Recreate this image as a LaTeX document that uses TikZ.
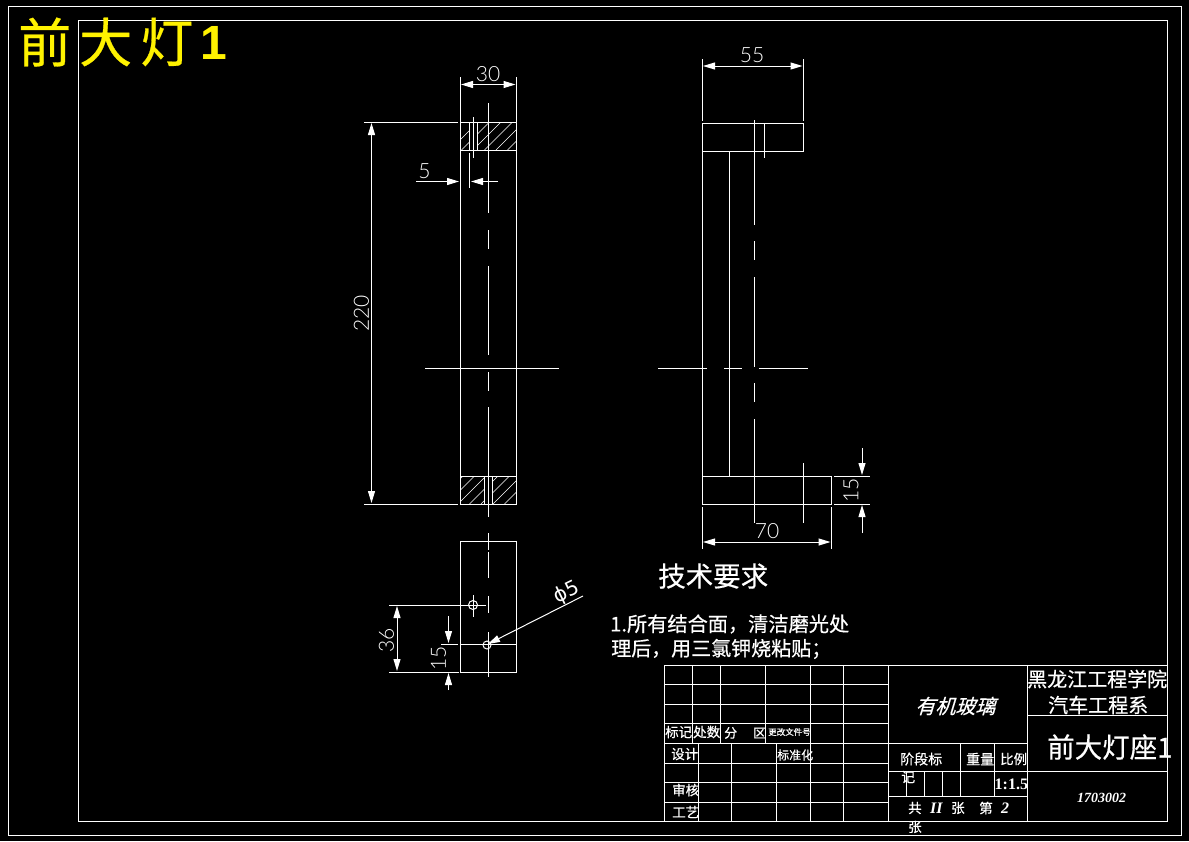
\documentclass[tikz,border=0pt]{standalone}
\usepackage{xcolor}
\usepackage{fontspec}
\usetikzlibrary{arrows.meta}
\setmainfont{Liberation Serif}
\newfontfamily\cjk[FakeBold=0.5]{Noto Sans CJK SC}
\newfontfamily\cjkit[FakeSlant=0.3,FakeBold=0.5]{Noto Sans CJK SC}
\newfontfamily\dimfont[UprightFont=* Light]{Lato}
\newfontfamily\phifont{DejaVu Sans}
\newcommand{\fsz}[1]{\fontsize{#1}{#1}\selectfont}
\tikzset{
  cad/.style={white, line width=1pt},
  dimtip/.style={>={Stealth[length=12pt,width=7pt,inset=0pt]}},
  dimtext/.style={white, inner sep=0pt, font=\dimfont\fsz{21}},
  label/.style={white, inner sep=0pt, anchor=west, font=\cjk\fsz{#1}},
  hatchline/.style={white, line width=0.6pt},
}
\begin{document}
\begin{tikzpicture}[x=1pt, y=-1pt]
\useasboundingbox (0, 0) rectangle (1189, 841);
\fill[black] (0, 0) rectangle (1189, 841);
\draw[cad] (8, 6) rectangle (1181.5, 835);
\draw[cad] (78, 20) rectangle (1167.5, 821);
\node[inner sep=0pt, anchor=west, yellow, font=\cjk\fsz{53}] (titlea) at (18, 42) {前};
\node[inner sep=0pt, anchor=west, yellow, font=\cjk\fsz{53}] (titleb) at (79, 42) {大};
\node[inner sep=0pt, anchor=west, yellow, font=\cjk\fsz{53}] (titlec) at (140, 42) {灯};
\node[inner sep=0pt, anchor=west, yellow, font=\fontspec{Liberation Sans}\bfseries\fsz{48}] (titled) at (200, 43) {1};

% left view
\draw[cad] (460, 122) rectangle (516.5, 150);
\draw[cad] (460, 476) rectangle (516.5, 504);
\draw[cad] (460, 150) -- (460, 476);
\draw[cad] (516.5, 150) -- (516.5, 476);
\draw[cad] (469, 122) -- (469, 150);
\draw[cad] (477, 122) -- (477, 150);
\draw[cad] (484, 476) -- (484, 504);
\draw[cad] (492, 476) -- (492, 504);
\draw[cad] (473.5, 117) -- (473.5, 158);
\begin{scope}
\clip (460, 122) rectangle (469, 150);
\foreach \hx in {0, 11.5, ..., 40} {\draw[hatchline] (450 + \hx, 150) -- (478 + \hx, 122);}
\end{scope}
\begin{scope}
\clip (477, 122) rectangle (516.5, 150);
\foreach \hx in {0, 11.5, ..., 80} {\draw[hatchline] (450 + \hx, 150) -- (478 + \hx, 122);}
\end{scope}
\begin{scope}
\clip (460, 476) rectangle (484, 504);
\foreach \hx in {0, 11.5, ..., 60} {\draw[hatchline] (435 + \hx, 504) -- (463 + \hx, 476);}
\end{scope}
\begin{scope}
\clip (492, 476) rectangle (516.5, 504);
\foreach \hx in {0, 11.5, ..., 60} {\draw[hatchline] (470 + \hx, 504) -- (498 + \hx, 476);}
\end{scope}
\draw[cad] (488, 103) -- (488, 213);
\draw[cad] (488, 230) -- (488, 248.5);
\draw[cad] (488, 266) -- (488, 355);
\draw[cad] (488, 372) -- (488, 391);
\draw[cad] (488, 407) -- (488, 517);
\draw[cad] (488, 533) -- (488, 550);
\draw[cad] (488, 552) -- (488, 578);
\draw[cad] (488, 596) -- (488, 613);
\draw[cad] (488, 632) -- (488, 677);
\draw[cad] (425, 368.5) -- (559, 368.5);

% bottom view
\draw[cad] (460, 541) rectangle (516.5, 672);
\draw[cad] (460, 644) -- (516.5, 644);
\draw[cad] (473, 605) circle (4.5);
\draw[cad] (473, 595) -- (473, 617);
\draw[cad] (389, 605) -- (486, 605);
\draw[cad] (487, 645) circle (4);

% right view
\draw[cad] (702, 123) rectangle (803.5, 151);
\draw[cad] (702, 476) rectangle (831.5, 504);
\draw[cad] (702, 151) -- (702, 476);
\draw[cad] (729.5, 151) -- (729.5, 476);
\draw[cad] (754.5, 120) -- (754.5, 225);
\draw[cad] (754.5, 241) -- (754.5, 260);
\draw[cad] (754.5, 277) -- (754.5, 367);
\draw[cad] (754.5, 383) -- (754.5, 402);
\draw[cad] (754.5, 419) -- (754.5, 523);
\draw[cad] (764, 123) -- (764, 158);
\draw[cad] (803.5, 463) -- (803.5, 523);
\draw[cad] (658, 368.5) -- (707, 368.5);
\draw[cad] (724, 368.5) -- (742, 368.5);
\draw[cad] (759, 368.5) -- (808, 368.5);

% dimensions
\draw[cad] (460, 77) -- (460, 122);
\draw[cad] (516.5, 77) -- (516.5, 122);
\draw[cad, dimtip, <->] (461, 84.5) -- (515.5, 84.5);
\node[dimtext] (dimthirty) at (488, 74.5) {30};
\draw[cad] (364, 122) -- (458, 122);
\draw[cad] (364, 504) -- (458, 504);
\draw[cad, dimtip, <->] (371.5, 123) -- (371.5, 503);
\node[dimtext, rotate=90] (dimlength) at (361.5, 313.5) {220};
\draw[cad] (469, 153) -- (469, 188);
\draw[cad, dimtip, ->] (416, 181.5) -- (459, 181.5);
\draw[cad, dimtip, ->] (498, 181.5) -- (471, 181.5);
\node[dimtext] (dimfive) at (424.5, 171) {5};
\draw[cad] (389, 672) -- (459, 672);
\draw[cad, dimtip, <->] (397, 606) -- (397, 671);
\node[dimtext, rotate=90] (dimhole) at (386.5, 640) {36};
\draw[cad] (441, 644) -- (458, 644);
\draw[cad, dimtip, ->] (448.5, 616) -- (448.5, 643);
\draw[cad, dimtip, ->] (448.5, 690) -- (448.5, 673);
\node[dimtext, rotate=90] (dimedge) at (438.5, 658) {15};
\coordinate (leader) at (583, 596);
\coordinate (holetip) at (488, 644);
\draw[cad, dimtip, ->] (leader) -- (holetip);
\node[dimtext, rotate=26, font=\phifont\fsz{20}] (dimdia) at (566.5, 593) {ϕ5};
\draw[cad] (702, 59) -- (702, 121);
\draw[cad] (803.5, 59) -- (803.5, 121);
\draw[cad, dimtip, <->] (703, 66) -- (802.5, 66);
\node[dimtext] (dimwidth) at (752, 55) {55};
\draw[cad] (702, 507) -- (702, 549);
\draw[cad] (831.5, 507) -- (831.5, 549);
\draw[cad, dimtip, <->] (703, 542) -- (830.5, 542);
\node[dimtext] (dimbase) at (767, 531.5) {70};
\draw[cad] (834, 476) -- (870, 476);
\draw[cad] (834, 504) -- (870, 504);
\draw[cad, dimtip, ->] (862, 448) -- (862, 475);
\draw[cad, dimtip, ->] (862, 533) -- (862, 505);
\node[dimtext, rotate=90] (dimthick) at (851, 490) {15};

% requirements
\node[label=27.5] (reqtitle) at (658, 576) {技术要求};
\node[label=20.2] (reqone) at (610, 624) {1.所有结合面，清洁磨光处};
\node[label=20] (reqtwo) at (611, 649) {理后，用三氯钾烧粘贴；};

% title block
\draw[cad] (664, 665.5) rectangle (1167.5, 821);
\draw[cad] (664, 684) -- (888, 684);
\draw[cad] (664, 704.5) -- (888, 704.5);
\draw[cad] (664, 723.5) -- (888, 723.5);
\draw[cad] (664, 743) -- (1027.5, 743);
\draw[cad] (664, 763.5) -- (888, 763.5);
\draw[cad] (664, 782.5) -- (888, 782.5);
\draw[cad] (664, 802) -- (888, 802);
\draw[cad] (692, 665.5) -- (692, 743);
\draw[cad] (720, 665.5) -- (720, 743);
\draw[cad] (765, 665.5) -- (765, 743);
\draw[cad] (810, 665.5) -- (810, 821);
\draw[cad] (843, 665.5) -- (843, 821);
\draw[cad] (888, 665.5) -- (888, 821);
\draw[cad] (698.5, 743) -- (698.5, 821);
\draw[cad] (731, 743) -- (731, 821);
\draw[cad] (776.5, 743) -- (776.5, 821);
\draw[cad] (1027.5, 665.5) -- (1027.5, 821);
\draw[cad] (888, 771) -- (1167.5, 771);
\draw[cad] (888, 796) -- (1027.5, 796);
\draw[cad] (1027.5, 715) -- (1167.5, 715);
\draw[cad] (960, 743) -- (960, 796);
\draw[cad] (994, 743) -- (994, 796);
\draw[cad] (906.5, 771) -- (906.5, 796);
\draw[cad] (924, 771) -- (924, 796);
\draw[cad] (942, 771) -- (942, 796);
\node[label=13.5] (tbmark) at (665, 732) {标记};
\node[label=13.5] (tbcount) at (693, 732) {处数};
\node[label=13] (tbdiv) at (724, 733) {分};
\node[label=13] (tbarea) at (753, 733) {区};
\node[label=8.5] (tbfile) at (768, 732) {更改文件号};
\node[label=13.5] (tbdesign) at (671, 754) {设计};
\node[label=12] (tbstd) at (777, 755) {标准化};
\node[label=13.5] (tbcheck) at (672, 790) {审核};
\node[label=13.5] (tbcraft) at (672, 812) {工艺};
\node[label=20, font=\cjkit\fsz{20}] (tbmat) at (915, 706) {有机玻璃};
\node[label=20] (tbschool) at (1027, 679) {黑龙江工程学院};
\node[label=20] (tbdept) at (1048, 705) {汽车工程系};
\node[label=27.5] (tbname) at (1047, 747) {前大灯座1};
\node[label=14, font=\itshape\bfseries\fsz{14}] (tbcode) at (1077, 798) {1703002};
\node[label=14] (tbstage) at (900, 759) {阶段标};
\node[label=14] (tbstagb) at (901, 777) {记};
\node[label=14] (tbweight) at (966, 759) {重量};
\node[label=13.5] (tbratio) at (1000, 759) {比例};
\node[label=13, font=\bfseries\fsz{16}] (tbscale) at (994.5, 784) {1:1.5};
\node[label=13.5] (tbtotal) at (908, 808) {共};
\node[label=13, font=\itshape\bfseries\fsz{16}] (tbeleven) at (930, 808) {II};
\node[label=13.5] (tbsheet) at (951, 808) {张};
\node[label=13.5] (tbno) at (979, 808) {第};
\node[label=13, font=\itshape\bfseries\fsz{16}] (tbtwo) at (1001, 808) {2};
\node[label=13.5] (tbsheetb) at (908, 827) {张};
\end{tikzpicture}
\end{document}
